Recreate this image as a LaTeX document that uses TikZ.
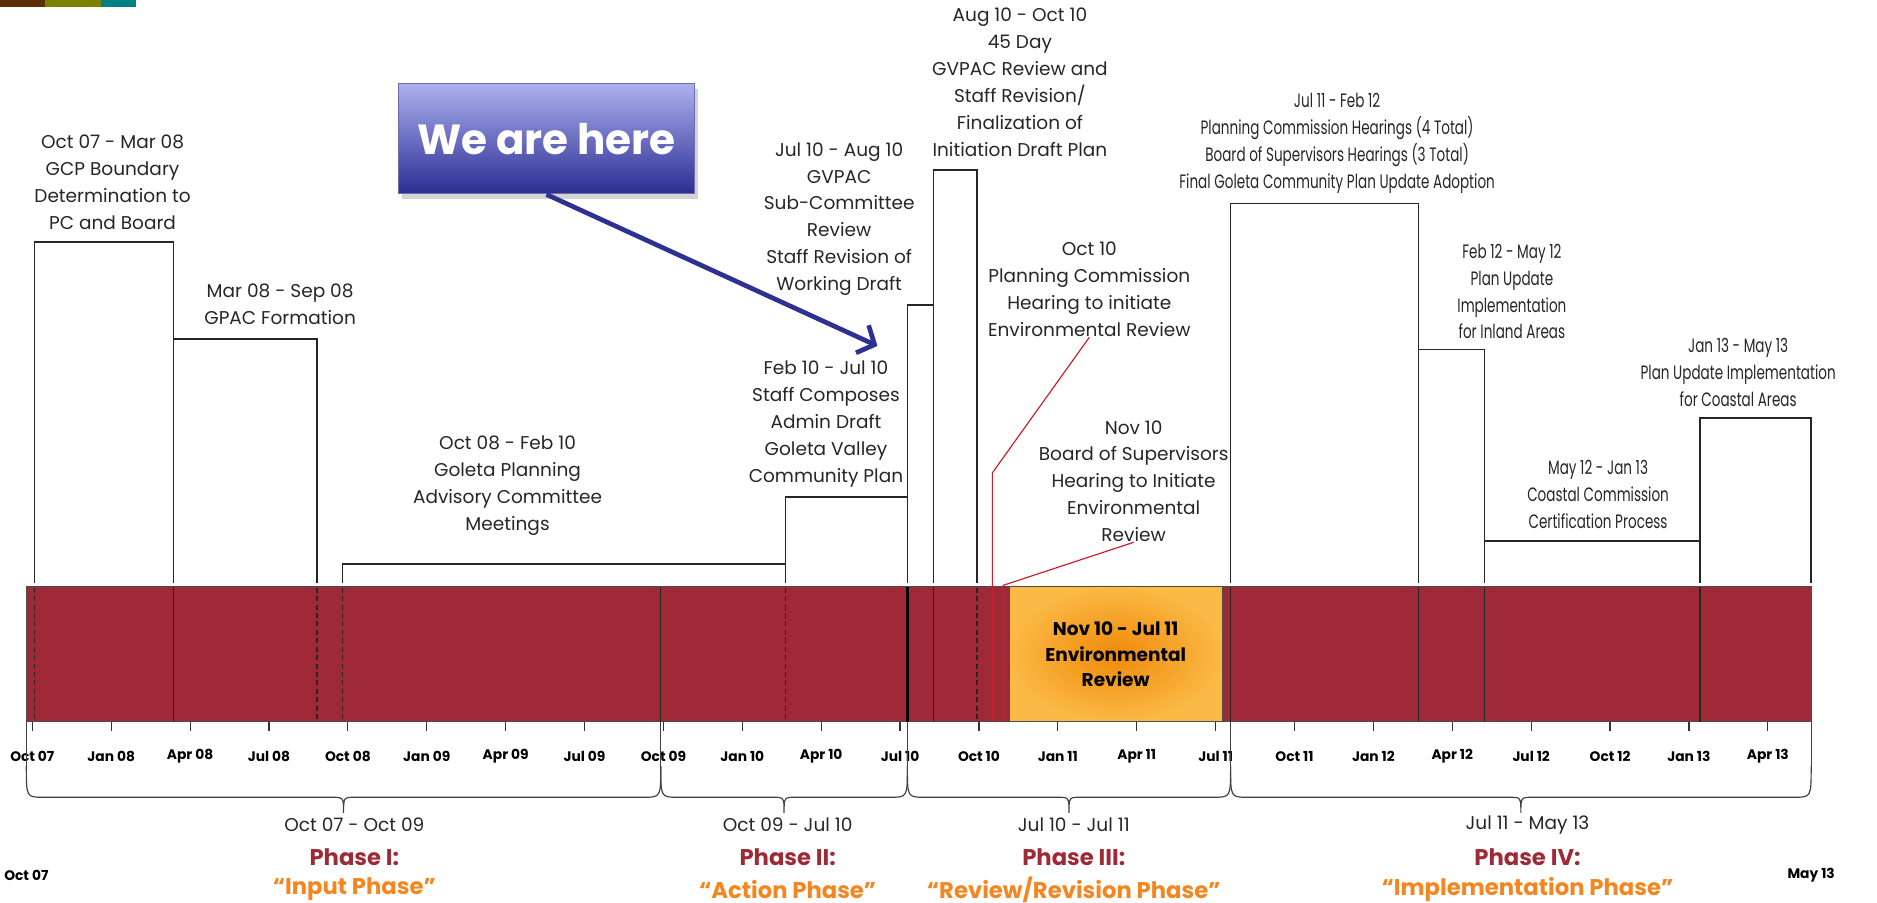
\documentclass[tikz,border=0pt]{standalone}
\usepackage{fontspec}
\setmainfont{Poppins}
\newfontfamily\narrowfont[FakeStretch=0.7]{Poppins}
\usepackage{xcolor}
\usepackage{tikz}
\usetikzlibrary{arrows.meta,positioning,calc,shadows}

\definecolor{barred}{HTML}{9F2936}
\definecolor{phasered}{HTML}{9E2A37}
\definecolor{phaseorange}{HTML}{F3861F}
\definecolor{envorange}{HTML}{EE8A0A}
\definecolor{envlight}{HTML}{FBB945}
\definecolor{herelight}{HTML}{ACB0EE}
\definecolor{heredark}{HTML}{2B2D93}
\definecolor{arrowblue}{HTML}{2E3192}
\definecolor{stripbrown}{HTML}{5C2E0A}
\definecolor{stripolive}{HTML}{808000}
\definecolor{stripteal}{HTML}{008080}
\definecolor{inkgray}{HTML}{262626}
\definecolor{markred}{HTML}{C8202A}

% curly brace under one phase: left x, right x, name of its tip
\newcommand{\phasebrace}[3]{%
  \draw[bracestyle] (#1,640) .. controls (#1,666) .. (#1+14,666)
    -- ({(#1+#2)/2-10},666) .. controls ({(#1+#2)/2},666) .. ({(#1+#2)/2},679) coordinate (#3)
    .. controls ({(#1+#2)/2},666) .. ({(#1+#2)/2+10},666)
    -- (#2-14,666) .. controls (#2,666) .. (#2,640);}

\begin{document}
\begin{tikzpicture}[x=0.025cm, y=-0.025cm,
    evt/.style={align=center, text=inkgray, inner sep=0pt, font=\fontsize{11}{16}\selectfont},
    evtnarrow/.style={evt, font=\narrowfont\fontsize{11.5}{16}\selectfont},
    stepline/.style={draw=inkgray, line width=0.9pt},
    barbox/.style={fill=barred, draw=black!70, line width=0.7pt},
    sepsolid/.style={draw=black!85, line width=0.8pt},
    sepdash/.style={draw=black!85, line width=0.9pt, dash pattern=on 3pt off 2pt},
    septhick/.style={draw=black, line width=1.6pt},
    markline/.style={draw=markred, line width=0.7pt},
    tickmark/.style={draw=black!80, line width=0.7pt},
    ticklbl/.style={inner sep=0pt, font=\bfseries\fontsize{8.2}{9}\selectfont},
    bracestyle/.style={draw=black!75, line width=0.7pt},
    phasedate/.style={inner sep=0pt, text=inkgray, font=\fontsize{11}{13}\selectfont},
    phasename/.style={inner sep=0pt, text=phasered, font=\bfseries\fontsize{13.5}{15}\selectfont},
    phasequote/.style={inner sep=0pt, text=phaseorange, font=\bfseries\fontsize{13.5}{15}\selectfont},
    envbox/.style={draw=black!70, line width=0.6pt, inner color=envorange, outer color=envlight,
      minimum width=4.45cm, minimum height=2.825cm, align=center, font=\bfseries\fontsize{11}{15.3}\selectfont},
    herebox/.style={draw=heredark!70, line width=0.6pt, top color=herelight, bottom color=heredark,
      minimum width=6.175cm, minimum height=2.3cm, text=white, font=\bfseries\fontsize{25}{28}\selectfont,
      drop shadow={opacity=0.35, shadow xshift=2pt, shadow yshift=-3pt}},
    herearrow/.style={draw=arrowblue, line width=2.8pt, -{Straight Barb[length=8pt,width=18pt]}}]
    \useasboundingbox (0,0) rectangle (1568,754);
    % Corner strip
    \fill[stripbrown] (0,0) rectangle (38,6);
    \fill[stripolive] (38,0) rectangle (84,6);
    \fill[stripteal] (84,0) rectangle (114,6);
    % Steps above the bar
    \draw[stepline] (29,487) -- (29,202) -- (145,202) -- (145,487);
    \draw[stepline] (145,283) -- (265,283) -- (265,487);
    \draw[stepline] (286,487) -- (286,471) -- (656,471);
    \draw[stepline] (656,487) -- (656,415) -- (758,415) -- (758,487);
    \draw[stepline] (758,415) -- (758,255) -- (780,255) -- (780,487);
    \draw[stepline] (780,255) -- (780,142) -- (816,142) -- (816,487);
    \draw[stepline] (1028,487) -- (1028,170) -- (1185,170) -- (1185,487);
    \draw[stepline] (1185,292) -- (1240,292) -- (1240,487);
    \draw[stepline] (1240,452) -- (1420,452) -- (1420,487);
    \draw[stepline] (1420,487) -- (1420,349) -- (1513,349) -- (1513,487);
    % Bar
    \draw[barbox] (22,490) rectangle (1513,603);
    \foreach \x in {29,265,286,656,816} \draw[sepdash] (\x,491) -- (\x,602);
    \foreach \x in {145,552,780,1028,1185,1240,1420} \draw[sepsolid] (\x,490) -- (\x,603);
    \draw[septhick] (758,490) -- (758,603);
    \node[envbox] (env) at (932,546.5) {Nov 10 - Jul 11\\Environmental\\Review};
    % Labels
    \node[evt] (lblA) at (94,152) {Oct 07 - Mar 08\\GCP Boundary\\Determination to\\PC and Board};
    \node[evt] (lblB) at (234,254.5) {Mar 08 - Sep 08\\GPAC Formation};
    \node[evt] (lblC) at (424,405.5) {Oct 08 - Feb 10\\Goleta Planning\\Advisory Committee\\Meetings};
    \node[evt] (lblD) at (690,354) {Feb 10 - Jul 10\\Staff Composes\\Admin Draft\\Goleta Valley\\Community Plan};
    \node[evt] (lblE) at (701,183) {Jul 10 - Aug 10\\GVPAC\\Sub-Committee\\Review\\Staff Revision of\\Working Draft};
    \node[evt] (lblF) at (852,69) {Aug 10 - Oct 10\\45 Day\\GVPAC Review and\\Staff Revision/\\Finalization of\\Initiation Draft Plan};
    \node[evt] (lblPC) at (910,242) {Oct 10\\Planning Commission\\Hearing to initiate\\Environmental Review};
    \node[evt] (lblBS) at (947,402) {Nov 10\\Board of Supervisors\\Hearing to Initiate\\Environmental\\Review};
    \node[evtnarrow] (lblG) at (1117,120) {Jul 11 - Feb 12\\Planning Commission Hearings (4 Total)\\Board of Supervisors Hearings (3 Total)\\Final Goleta Community Plan Update Adoption};
    \node[evtnarrow] (lblH) at (1263,243.5) {Feb 12 - May 12\\Plan Update\\Implementation\\for Inland Areas};
    \node[evtnarrow] (lblJ) at (1452,311) {Jan 13 - May 13\\Plan Update Implementation\\for Coastal Areas};
    \node[evtnarrow] (lblI) at (1335,413) {May 12 - Jan 13\\Coastal Commission\\Certification Process};
    % Hearing markers
    \coordinate (pcbend) at (829,395);
    \coordinate (pcmark) at (829,603);
    \draw[markline] (lblPC.south) -- (pcbend) -- (pcmark);
    \coordinate (bsbend) at (838,489);
    \coordinate (bsmark) at (838,603);
    \draw[markline] (lblBS.south) -- (bsbend) -- (bsmark);
    % We are here
    \node[herebox] (here) at (456.5,116) {We are here};
    \coordinate (heretip) at (733,289);
    \draw[herearrow] (here.south) -- (heretip);
    % Axis
    \foreach \lbl [count=\k from 0] in {Oct 07,Jan 08,Apr 08,Jul 08,Oct 08,Jan 09,Apr 09,Jul 09,Oct 09,Jan 10,Apr 10,Jul 10,Oct 10,Jan 11,Apr 11,Jul 11,Oct 11,Jan 12,Apr 12,Jul 12,Oct 12,Jan 13,Apr 13} {
        \draw[tickmark] ({27+65.9*\k},603) -- ({27+65.9*\k},611);
        \node[ticklbl] (tick\k) at ({27+65.9*\k},632) {\lbl};
    }
    \node[ticklbl] (start) at (22,731) {Oct 07};
    \node[ticklbl] (end) at (1513,731) {May 13};
    % Phases
    \foreach \x in {22,552,758,1028,1513} \draw[bracestyle] (\x,603) -- (\x,640);
    \phasebrace{22}{552}{tipI}
    \phasebrace{552}{758}{tipII}
    \phasebrace{758}{1028}{tipIII}
    \phasebrace{1028}{1513}{tipIV}
    \node[phasedate] (dateI) at (296,689) {Oct 07 - Oct 09};
    \node[phasename] (nameI) at (296,716) {Phase I:};
    \node[phasequote] (quoteI) at (296,743) {“Input Phase”};
    \node[phasedate] (dateII) at (658,689) {Oct 09 - Jul 10};
    \node[phasename] (nameII) at (658,716) {Phase II:};
    \node[phasequote] (quoteII) at (658,743) {“Action Phase”};
    \node[phasedate] (dateIII) at (897,689) {Jul 10 - Jul 11};
    \node[phasename] (nameIII) at (897,716) {Phase III:};
    \node[phasequote] (quoteIII) at (897,743) {“Review/Revision Phase”};
    \node[phasedate] (dateIV) at (1276,689) {Jul 11 - May 13};
    \node[phasename] (nameIV) at (1276,716) {Phase IV:};
    \node[phasequote] (quoteIV) at (1276,743) {“Implementation Phase”};
\end{tikzpicture}
\end{document}
